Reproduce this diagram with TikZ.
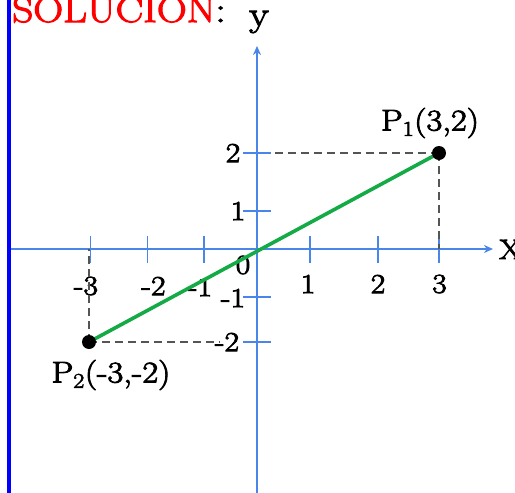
\documentclass[tikz,border=0pt]{standalone}
\usepackage{fontspec}
\setmainfont{Latin Modern Roman}[FakeStretch=1.15,FakeBold=3]
\usetikzlibrary{arrows.meta}
\definecolor{axisblue}{RGB}{74,134,232}
\definecolor{seggreen}{RGB}{20,170,70}
\definecolor{dashgray}{RGB}{85,85,85}
\begin{document}
\begin{tikzpicture}[x=1pt,y=-1pt,
  axis/.style={draw=axisblue,line width=1.8pt},
  tick/.style={draw=axisblue,line width=1.8pt},
  guide/.style={draw=dashgray,line width=1.8pt,dash pattern=on 8pt off 5pt},
  ticklabel/.style={inner sep=0pt,font=\fontsize{27.5}{27.5}\selectfont},
  ptlabel/.style={inner sep=0pt,font=\fontsize{30}{30}\selectfont},
  dot/.style={circle,fill=black,inner sep=0pt,minimum size=14pt}]
\useasboundingbox (0,0) rectangle (515,493);
% left blue border
\draw[blue,line width=3.4pt] (9,0) -- (9,493);
% title
\node[anchor=base west,inner sep=0pt,font=\fontsize{36}{36}\selectfont] (title) at (12,22) {\textcolor{red}{SOLUCION}:};
% axes
\coordinate (xl) at (10.7,249);
\coordinate (xr) at (493,249);
\coordinate (yb) at (257,493);
\coordinate (yt) at (257,46);
\draw[axis,-{Stealth[length=9pt,width=8pt]}] (xl) -- (xr);
\draw[axis,-{Stealth[length=9pt,width=8pt]}] (yb) -- (yt);
\node[anchor=base,inner sep=0pt,font=\fontsize{35}{35}\selectfont] (ylab) at (259,26) {y};
\node[anchor=base west,inner sep=0pt,font=\fontsize{28}{28}\selectfont] (xlab) at (499,259) {X};
% x ticks
\foreach \x in {90.5,147.5,204,310,378,439}
  \draw[tick] (\x,235.5) -- (\x,262.5);
% y ticks
\foreach \y in {153,211,297,342}
  \draw[tick] (243,\y) -- (271,\y);
% tick labels
\node[ticklabel] (lxm3) at (86,286) {-3};
\node[ticklabel] (lxm2) at (153.5,286) {-2};
\node[ticklabel] (lxm1) at (200,287) {-1};
\node[ticklabel] (l0) at (243,265) {0};
\node[ticklabel] (lx1) at (308,284) {1};
\node[ticklabel] (lx2) at (378,284) {2};
\node[ticklabel] (lx3) at (439.5,284) {3};
\node[ticklabel] (ly2) at (233,153) {2};
\node[ticklabel] (ly1) at (238,211) {1};
\node[ticklabel] (lym1) at (233,298) {-1};
\node[ticklabel] (lym2) at (227,342) {-2};
% points
\coordinate (P1) at (439,153);
\coordinate (P2) at (89,342);
\coordinate (P1h) at (273,153);
\coordinate (P1v) at (439,249);
\coordinate (P2h) at (220,342);
\coordinate (P2v) at (89,249);
\draw[guide] (P1) -- (P1h);
\draw[guide] (P1) -- (P1v);
\draw[guide] (P2) -- (P2h);
\draw[guide] (P2) -- (P2v);
\draw[seggreen,line width=3.6pt] (P2) -- (P1);
\node[dot] (d1) at (P1) {};
\node[dot] (d2) at (P2) {};
\node[ptlabel] (lp1) at (430,123) {P\textsubscript{1}(3,2)};
\node[ptlabel] (lp2) at (111,375) {P\textsubscript{2}(-3,-2)};
\end{tikzpicture}
\end{document}
